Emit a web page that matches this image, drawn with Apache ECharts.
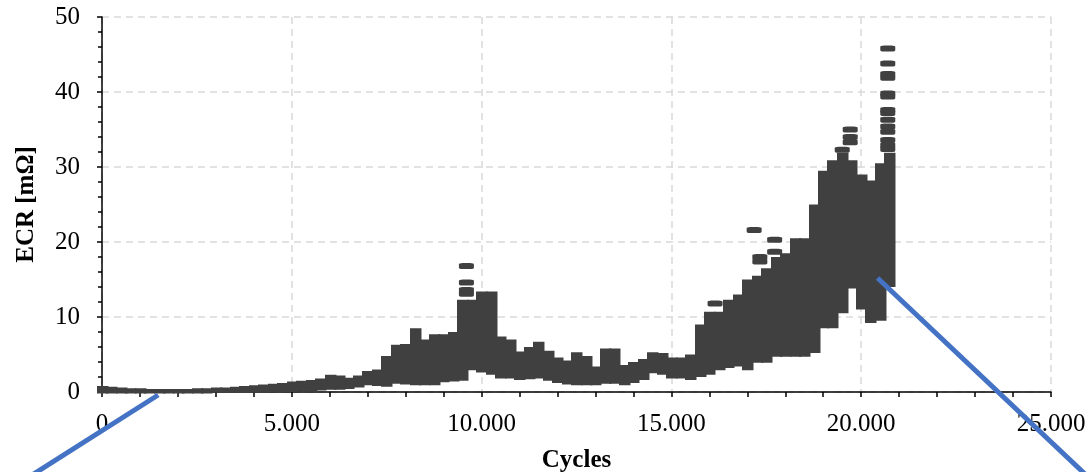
<!DOCTYPE html>
<html>
<head>
<meta charset="utf-8">
<script src="https://cdn.jsdelivr.net/npm/echarts@6/dist/echarts.min.js"></script>
<style>
  html, body { margin: 0; padding: 0; background: #fff; }
  #chart { width: 1089px; height: 472px; }
</style>
</head>
<body>
<div id="chart"></div>
<script>
// ECR band, read column by column (every 250 cycles): lower and upper edge
const colCycles = [
  0, 250, 500, 750, 1000, 1250, 1500, 1750, 2000, 2250,
  2500, 2750, 3000, 3250, 3500, 3750, 4000, 4250, 4500, 4750,
  5000, 5250, 5500, 5750, 6000, 6250, 6500, 6750, 7000, 7250,
  7500, 7750, 8000, 8250, 8500, 8750, 9000, 9250, 9500, 9750,
  10000, 10250, 10500, 10750, 11000, 11250, 11500, 11750, 12000, 12250,
  12500, 12750, 13000, 13250, 13500, 13750, 14000, 14250, 14500, 14750,
  15000, 15250, 15500, 15750, 16000, 16250, 16500, 16750, 17000, 17250,
  17500, 17750, 18000, 18250, 18500, 18750, 19000, 19250, 19500, 19750,
  20000, 20250, 20500, 20750
];
const ecrLow = [
  -0.2, -0.2, -0.2, -0.2, -0.2, -0.2, -0.2, -0.2, -0.2, -0.2,
  -0.2, -0.2, -0.1, -0.1, -0.1, -0.1, -0.1, -0.1, 0.0, 0.0,
  0.0, 0.1, 0.1, 0.2, 0.3, 0.3, 0.4, 0.6, 0.9, 0.8,
  0.7, 1.1, 1.0, 0.9, 0.9, 0.9, 1.3, 1.4, 1.5, 2.9,
  2.6, 2.3, 1.8, 1.8, 1.6, 1.7, 1.8, 1.5, 1.2, 1.0,
  0.9, 0.9, 0.9, 1.1, 1.1, 0.9, 1.2, 1.6, 2.5, 2.3,
  1.8, 1.8, 1.6, 2.0, 2.3, 2.9, 3.2, 3.4, 2.9, 3.9,
  3.9, 4.7, 4.7, 4.7, 4.7, 5.2, 8.5, 8.5, 10.5, 13.8,
  11.0, 9.2, 9.5, 14.0
];
const ecrHigh = [
  0.8, 0.7, 0.6, 0.5, 0.5, 0.4, 0.4, 0.4, 0.4, 0.4,
  0.5, 0.5, 0.6, 0.6, 0.7, 0.8, 0.9, 1.0, 1.1, 1.2,
  1.4, 1.5, 1.6, 1.8, 2.3, 2.2, 1.9, 2.2, 2.8, 3.0,
  4.8, 6.3, 6.4, 8.5, 7.0, 7.7, 7.7, 8.0, 12.3, 12.3,
  13.4, 13.4, 7.4, 7.0, 5.4, 6.0, 6.7, 5.5, 4.6, 4.2,
  5.3, 4.8, 3.4, 5.8, 5.8, 3.6, 4.0, 4.4, 5.3, 5.2,
  4.6, 4.6, 5.0, 9.0, 10.7, 10.7, 12.3, 13.0, 15.0, 15.5,
  16.5, 18.0, 18.5, 20.5, 20.5, 25.0, 29.5, 30.9, 31.9, 30.9,
  29.0, 28.2, 30.5, 31.9
];

// isolated readings standing above the band
const outCycles = [
  9600, 9600, 9600, 9600,
  16150, 17180, 17330, 17330, 17720, 17720,
  19500, 19710, 19710, 19710,
  20700, 20700, 20700, 20700, 20700, 20700, 20700,
  20700, 20700, 20700, 20700, 20700, 20700, 20700
];
const outEcr = [
  16.8, 14.6, 13.6, 13.1,
  11.8, 21.6, 18.0, 17.4, 20.3, 18.7,
  32.3, 35.0, 34.0, 33.3,
  45.8, 43.8, 42.4, 41.9, 39.8, 39.4, 37.6,
  37.2, 36.3, 35.4, 34.7, 33.6, 32.9, 32.4
];

// callout lines leaving the plot (cycles, ECR)
const calloutLeft = [[1480, -0.4], [-2100, -11.9]];
const calloutRight = [[20430, 15.2], [26180, -12.3]];

const xTicks = [0, 5000, 10000, 15000, 20000, 25000];
const yTicks = [0, 10, 20, 30, 40, 50];

const myChart = echarts.init(document.getElementById("chart"));

const bandData = colCycles.map((c, i) => [c, ecrLow[i], ecrHigh[i]]);
const outData = outCycles.map((c, i) => [c, outEcr[i]]);
const colHalf = 125;

function fmtThousands(v) {
  return String(v).replace(/\B(?=(\d{3})+(?!\d))/g, ".");
}

const font = "Liberation Serif";

const option = {
  backgroundColor: "#fff",
  animation: false,
  grid: {
    left: 102,
    right: 38,
    top: 17,
    bottom: 80,
    containLabel: false,
    outerBoundsMode: "none",
  },
  xAxis: {
    type: "value",
    min: xTicks[0],
    max: xTicks[xTicks.length - 1],
    interval: 5000,
    name: "Cycles",
    nameLocation: "middle",
    nameGap: 56,
    nameTextStyle: {
      fontFamily: font,
      fontWeight: "bold",
      fontSize: 25,
      color: "#000",
    },
    axisLine: { onZero: false, lineStyle: { color: "#000", width: 1.5 } },
    axisTick: { show: true, length: 5, lineStyle: { color: "#000", width: 1.5 } },
    minorTick: { show: true, splitNumber: 5, length: 5, lineStyle: { color: "#000", width: 1.5 } },
    axisLabel: {
      fontFamily: font,
      fontSize: 25,
      color: "#000",
      margin: 20,
      formatter: (v) => fmtThousands(v),
    },
    splitLine: {
      show: true,
      lineStyle: { type: [7, 5], color: "#d9d9d9", width: 1.5 },
    },
  },
  yAxis: {
    type: "value",
    min: yTicks[0],
    max: yTicks[yTicks.length - 1],
    interval: 10,
    name: "ECR [mΩ]",
    nameLocation: "middle",
    nameGap: 63,
    nameTextStyle: {
      fontFamily: font,
      fontWeight: "bold",
      fontSize: 25,
      color: "#000",
    },
    axisLine: { show: true, lineStyle: { color: "#000", width: 1.5 } },
    axisTick: { show: true, length: 5, lineStyle: { color: "#000", width: 1.5 } },
    minorTick: { show: true, splitNumber: 5, length: 4, lineStyle: { color: "#000", width: 1.5 } },
    axisLabel: {
      fontFamily: font,
      fontSize: 25,
      color: "#000",
      margin: 22,
    },
    splitLine: {
      show: true,
      lineStyle: { type: [7, 5], color: "#d9d9d9", width: 1.5 },
    },
  },
  series: [
    {
      name: "band",
      type: "custom",
      data: bandData,
      z: 2,
      renderItem: (params, api) => {
        const x = api.value(0);
        const p0 = api.coord([x - colHalf, api.value(2)]);
        const p1 = api.coord([x + colHalf, api.value(1)]);
        return {
          type: "rect",
          shape: {
            x: Math.floor(p0[0]),
            y: p0[1],
            width: p1[0] - p0[0] + 2,
            height: p1[1] - p0[1],
          },
          style: { fill: "#404040" },
        };
      },
    },
    {
      name: "outliers",
      type: "scatter",
      data: outData,
      symbol: "roundRect",
      symbolSize: [15, 6],
      itemStyle: { color: "#404040", opacity: 1 },
      z: 3,
    },
  ],
};

myChart.setOption(option);

// callouts go outside the grid, so draw them as graphics placed via the axes
const toPx = (p) => myChart.convertToPixel({ gridIndex: 0 }, p);
const callout = (pts) => {
  const a = toPx(pts[0]);
  const b = toPx(pts[1]);
  return {
    type: "line",
    z: 100,
    shape: { x1: a[0], y1: a[1], x2: b[0], y2: b[1] },
    style: { stroke: "#4472C4", lineWidth: 5 },
  };
};
myChart.setOption({
  graphic: [callout(calloutLeft), callout(calloutRight)],
});
</script>
</body>
</html>
